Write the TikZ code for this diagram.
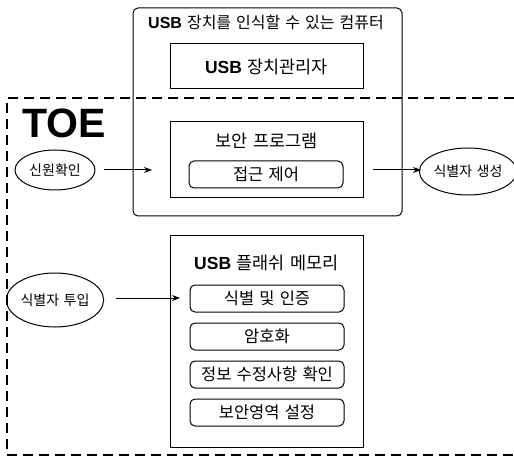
\documentclass[tikz,border=0pt]{standalone}
\usepackage{fontspec}
\setmainfont{Liberation Sans}
\newfontfamily\kr[WordSpace=2]{Noto Sans CJK KR}
\newfontfamily\krt[WordSpace=1.4]{Noto Sans CJK KR}
\usetikzlibrary{arrows.meta,shapes.geometric}
\newcommand{\usbb}{{\rmfamily\bfseries USB}}
\begin{document}
\begin{tikzpicture}[x=1pt,y=-1pt,
  box/.style={draw,line width=1pt,inner sep=0pt},
  sub/.style={draw,line width=1pt,rounded corners=5pt,minimum width=154pt,minimum height=27pt,inner sep=0pt,font=\kr\fontsize{16.5}{16.5}\selectfont},
  oval/.style={draw,ellipse,line width=1pt,inner sep=0pt,font=\kr\fontsize{14}{14}\selectfont},
  ttl/.style={inner sep=0pt,font=\krt\fontsize{17.5}{17.5}\selectfont},
  arr/.style={line width=1pt,-{Stealth[length=8pt,width=6pt]}}]
\useasboundingbox (0,0) rectangle (514,457);
% TOE dashed region
\draw[line width=1.4pt,dash pattern=on 10pt off 6pt] (514,98) -| (7,455) -- (514,455);
\node[inner sep=0pt,font=\fontsize{41}{41}\selectfont\bfseries,anchor=center] (toe) at (64,123) {TOE};
% computer
\node[box,rounded corners=5pt,minimum width=269pt,minimum height=208pt] (comp) at (267.5,112) {};
\node[ttl,font=\krt\fontsize{16}{16}\selectfont] (compt) at (266,22) {\usbb{} 장치를 인식할 수 있는 컴퓨터};
\node[box,minimum width=193pt,minimum height=45pt,ttl] (mgr) at (266.5,66.5) {\usbb{} 장치관리자};
\node[box,minimum width=193pt,minimum height=76pt] (sec) at (266.5,160) {};
\node[ttl] (sect) at (266.5,141) {보안 프로그램};
\node[sub] (acc) at (266,174.5) {접근 제어};
% usb
\node[box,minimum width=193pt,minimum height=211pt] (usb) at (266.5,341.5) {};
\node[ttl] (usbt) at (266.5,263) {\usbb{} 플래쉬 메모리};
\node[sub] (s1) at (267,298.5) {식별 및 인증};
\node[sub] (s2) at (267,336.5) {암호화};
\node[sub] (s3) at (267,374.5) {정보 수정사항 확인};
\node[sub] (s4) at (267,412.5) {보안영역 설정};
% ovals
\node[oval,minimum width=80pt,minimum height=40pt] (e1) at (55,170) {신원확인};
\node[oval,minimum width=80pt,minimum height=47pt] (e2) at (468,171.5) {식별자 생성};
\node[oval,minimum width=80pt,minimum height=54pt] (e3) at (55,300) {식별자 투입};
% arrows
\coordinate (a1) at (152,170);
\coordinate (a2) at (421,170);
\coordinate (a3) at (180,298);
\draw[arr] ([xshift=8pt]e1.east) -- (a1);
\draw[arr] ([xshift=9pt]sec.east|-a2) -- (a2);
\draw[arr] ([xshift=12pt]e3.east|-a3) -- (a3);
\end{tikzpicture}
\end{document}
